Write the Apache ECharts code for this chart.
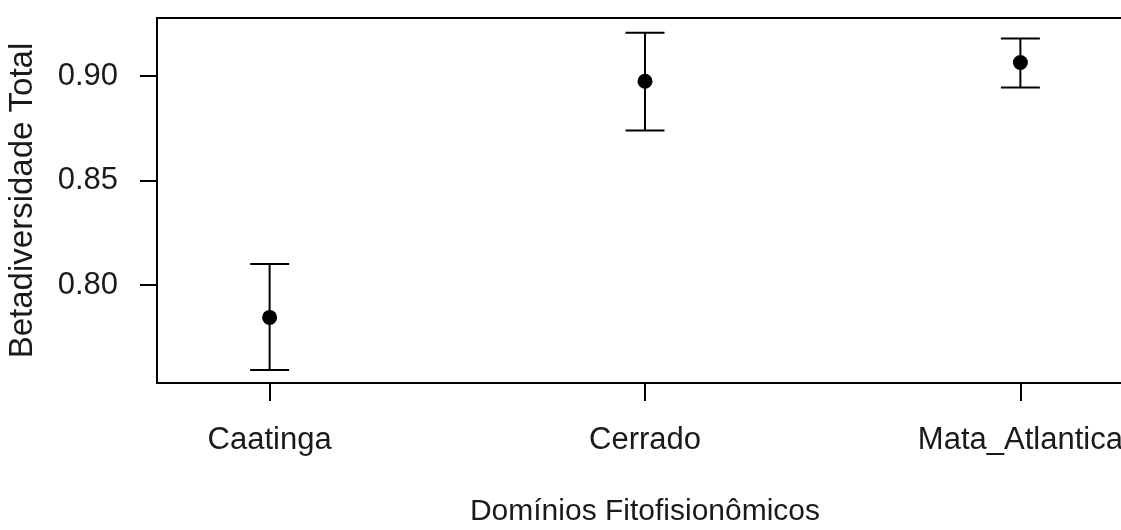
<!DOCTYPE html>
<html>
<head>
<meta charset="utf-8">
<script src="https://cdn.jsdelivr.net/npm/echarts@6/dist/echarts.min.js"></script>
<style>
  html, body { margin: 0; padding: 0; background: #fff; }
  #chart { width: 1121px; height: 530px; }
</style>
</head>
<body>
<div id="chart"></div>
<script>
// Total beta diversity per phytogeographic domain: mean with interval
const categories = ['Caatinga', 'Cerrado', 'Mata_Atlantica'];
const means = [0.7845, 0.8975, 0.9065];
const lower = [0.7593, 0.8740, 0.8945];
const upper = [0.8100, 0.9208, 0.9180];
const yTicks = [0.80, 0.85, 0.90];
const xTicks = [1, 2, 3];

const FONT = 'Liberation Sans, Arial, sans-serif';
const TEXT = '#1a1a1a';
const FS = 31;

const pointData = means.map((m, i) => [i + 1, m]);
const barData = means.map((m, i) => [i + 1, lower[i], upper[i]]);

const chart = echarts.init(document.getElementById('chart'), null, { renderer: 'canvas' });

chart.setOption({
  backgroundColor: '#fff',
  animation: false,
  grid: {
    left: 157, top: 18, width: 976, height: 365,
    outerBoundsMode: 'none', containLabel: false,
    show: true, borderColor: '#000', borderWidth: 2, backgroundColor: 'transparent'
  },
  xAxis: {
    type: 'value', min: 0.7, max: 3.3,
    splitLine: { show: false },
    axisLine: { show: false },
    axisTick: { show: true, customValues: xTicks, length: 18, inside: false,
                lineStyle: { color: '#000', width: 2 } },
    axisLabel: { customValues: xTicks, margin: 42, fontSize: FS, fontFamily: FONT, color: TEXT,
                 formatter: v => categories[Math.round(v) - 1] || '' },
    name: 'Domínios Fitofisionômicos', nameLocation: 'middle', nameGap: 114,
    nameTextStyle: { fontSize: 30, fontFamily: FONT, color: TEXT }
  },
  yAxis: {
    type: 'value', min: 0.7531, max: 0.9278,
    splitLine: { show: false },
    axisLine: { show: false },
    axisTick: { show: true, customValues: yTicks, length: 17, inside: false,
                lineStyle: { color: '#000', width: 2 } },
    axisLabel: { customValues: yTicks, margin: 39, fontSize: FS, fontFamily: FONT, color: TEXT,
                 formatter: v => v.toFixed(2) },
    name: 'Betadiversidade Total', nameLocation: 'middle', nameGap: 118, nameRotate: 90,
    nameTextStyle: { fontSize: 33, fontFamily: FONT, color: TEXT }
  },
  series: [
    {
      type: 'custom',
      data: barData,
      renderItem: function (params, api) {
        const x = api.value(0);
        const lo = api.coord([x, api.value(1)]);
        const hi = api.coord([x, api.value(2)]);
        const half = 19.5;
        const style = { stroke: '#000', lineWidth: 2, fill: null };
        return {
          type: 'group',
          children: [
            { type: 'line', shape: { x1: lo[0], y1: lo[1], x2: hi[0], y2: hi[1] }, style: style },
            { type: 'line', shape: { x1: lo[0] - half, y1: lo[1], x2: lo[0] + half, y2: lo[1] }, style: style },
            { type: 'line', shape: { x1: hi[0] - half, y1: hi[1], x2: hi[0] + half, y2: hi[1] }, style: style }
          ]
        };
      },
      z: 2
    },
    {
      type: 'scatter',
      data: pointData,
      symbol: 'circle',
      symbolSize: 15,
      itemStyle: { color: '#000', opacity: 1 },
      z: 3
    }
  ]
});
</script>
</body>
</html>
